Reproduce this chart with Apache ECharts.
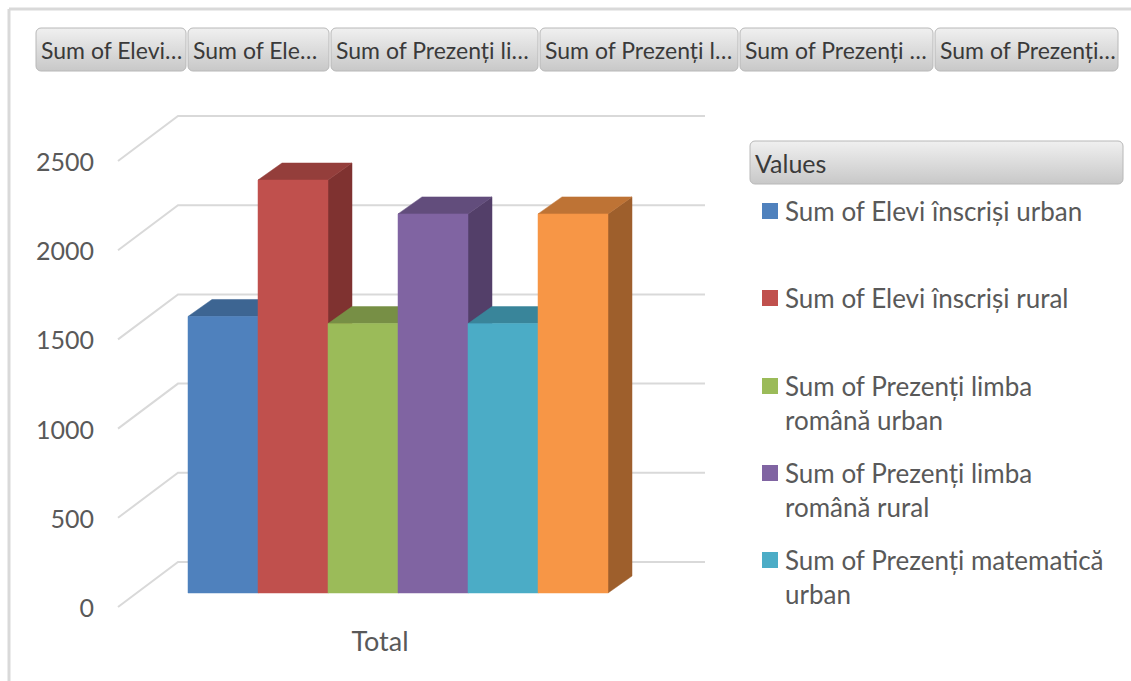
<!DOCTYPE html>
<html>
<head>
<meta charset="utf-8">
<title>Sum of Elevi / Prezenți</title>
<script src="https://cdn.jsdelivr.net/npm/echarts@6/dist/echarts.min.js"></script>
<style>
html, body { margin: 0; padding: 0; background: #fff; }
#chart { width: 1131px; height: 681px; }
</style>
</head>
<body>
<div id="chart"></div>
<script>
const categories = ['Total'];
const seriesNames = [
  'Sum of Elevi înscriși urban',
  'Sum of Elevi înscriși rural',
  'Sum of Prezenți limba română urban',
  'Sum of Prezenți limba română rural',
  'Sum of Prezenți matematică urban',
  'Sum of Prezenți matematică rural'
];
const seriesValues = [1550, 2315, 1510, 2125, 1510, 2125];
const yTicks = [0, 500, 1000, 1500, 2000, 2500];
// only the first five fit in the legend box
const legendLabels = [
  'Sum of Elevi înscriși urban',
  'Sum of Elevi înscriși rural',
  'Sum of Prezenți limba\nromână urban',
  'Sum of Prezenți limba\nromână rural',
  'Sum of Prezenți matematică\nurban'
];
const tabLabels = ['Sum of Elevi…', 'Sum of Ele…', 'Sum of Prezenți li…', 'Sum of Prezenți l…', 'Sum of Prezenți …', 'Sum of Prezenți…'];

const frontColors = ['#4f81bd', '#c0504d', '#9bbb59', '#8064a2', '#4bacc6', '#f79646'];
const topColors = ['#3d6592', '#943e3b', '#778f45', '#624d7c', '#39859a', '#be7335'];
const sideColors = ['#365b85', '#7f3230', '#677b3b', '#533f69', '#317386', '#9e5f2c'];

const FONT = 'Lato, "Open Sans", sans-serif';
const TEXT = '#595959';
// depth offsets of the oblique 3d view
const WALL_DX = 60, WALL_DY = 45;
const BAR_DX = 24, BAR_DY = 17;

const tabPos = [[36, 186], [188, 329], [331, 538], [540, 738], [740, 933], [935, 1118]];
const legendRowY = [211, 298, 386, 473, 560];

const chart = echarts.init(document.getElementById('chart'), null, {renderer: 'svg'});

function buttonGradient() {
  return new echarts.graphic.LinearGradient(0, 0, 0, 1, [
    {offset: 0, color: '#f0f0f0'},
    {offset: 1, color: '#c8c8c8'}
  ]);
}

let graphics = [
  {type: 'line', shape: {x1: 9, y1: 9, x2: 1131, y2: 9}, style: {stroke: '#d9d9d9', lineWidth: 3}},
  {type: 'line', shape: {x1: 9, y1: 9, x2: 9, y2: 681}, style: {stroke: '#d9d9d9', lineWidth: 3}},
  {type: 'rect', shape: {x: 750, y: 141, width: 373, height: 43, r: 5}, style: {fill: buttonGradient(), stroke: '#b8b8b8', lineWidth: 1}},
  {type: 'text', style: {text: 'Values', x: 755, y: 163, verticalAlign: 'middle', font: '25px ' + FONT, fill: '#3a3a3a'}}
];
tabPos.forEach((p, i) => {
  graphics.push({type: 'rect', shape: {x: p[0], y: 28, width: p[1] - p[0], height: 43, r: 5}, style: {fill: buttonGradient(), stroke: '#b8b8b8', lineWidth: 1}});
  graphics.push({type: 'text', style: {text: tabLabels[i], x: p[0] + 5, y: 50, verticalAlign: 'middle', font: '23px ' + FONT, fill: '#3a3a3a'}});
});

function renderGridLine(params, api) {
  const p = api.coord([0, api.value(1)]);
  const pr = api.coord([1, api.value(1)]);
  return {
    type: 'polyline',
    shape: {points: [[p[0], p[1]], [p[0] + WALL_DX, p[1] - WALL_DY], [pr[0], p[1] - WALL_DY]]},
    style: {stroke: '#d9d9d9', lineWidth: 2, fill: null}
  };
}

function renderBar(params, api) {
  const i = api.value(2);
  const top = api.coord([api.value(0), api.value(1)]);
  const base = api.coord([api.value(0), 0]);
  const band = api.size([1, 0])[0];
  const w = band / seriesValues.length;
  const xl = top[0] - band / 2 + i * w, xr = xl + w;
  const yt = top[1], yb = base[1];
  return {
    type: 'group',
    children: [
      {type: 'polygon', shape: {points: [[xr, yt], [xr + BAR_DX, yt - BAR_DY], [xr + BAR_DX, yb - BAR_DY], [xr, yb]]},
        style: {fill: sideColors[i], stroke: sideColors[i], lineWidth: 0.5}},
      {type: 'polygon', shape: {points: [[xl, yt], [xl + BAR_DX, yt - BAR_DY], [xr + BAR_DX, yt - BAR_DY], [xr, yt]]},
        style: {fill: topColors[i], stroke: topColors[i], lineWidth: 0.5}},
      {type: 'rect', shape: {x: xl, y: yt, width: w, height: yb - yt},
        style: {fill: frontColors[i], stroke: frontColors[i], lineWidth: 0.5}}
    ]
  };
}

const series = [{
  type: 'custom',
  xAxisIndex: 0,
  yAxisIndex: 0,
  silent: true,
  renderItem: renderGridLine,
  data: yTicks.map(v => [0, v]),
  z: 1
}];
seriesNames.forEach((name, i) => {
  series.push({
    name: name,
    type: 'custom',
    xAxisIndex: 1,
    yAxisIndex: 1,
    renderItem: renderBar,
    itemStyle: {color: frontColors[i]},
    encode: {x: 0, y: 1},
    data: [[0, seriesValues[i], i]],
    z: 2
  });
});

const option = {
  animation: false,
  graphic: graphics,
  legend: legendLabels.map((label, i) => {
    const twoLines = label.indexOf('\n') >= 0;
    return {
      data: [seriesNames[i]],
      left: 762,
      top: legendRowY[i] - 51,
      padding: 0,
      icon: 'rect',
      itemWidth: 16,
      itemHeight: 16,
      selectedMode: false,
      // an empty first line keeps the icon level with the first text line
      formatter: () => twoLines ? '\n' + label : label,
      textStyle: {
        fontFamily: FONT, fontSize: 26, color: TEXT, lineHeight: 34,
        padding: twoLines ? [0, 0, 0, 2] : [34, 0, 34, 2],
        backgroundColor: 'rgba(255,255,255,0)'
      }
    };
  }),
  grid: [
    {left: 118, top: 161, width: 587, height: 446},
    {left: 188, top: 147, width: 420, height: 446}
  ],
  xAxis: [
    {gridIndex: 0, type: 'value', min: 0, max: 1, show: false},
    {gridIndex: 1, type: 'category', data: categories,
      axisLine: {show: false}, axisTick: {show: false},
      axisLabel: {margin: 34, fontFamily: FONT, fontSize: 27, color: TEXT, padding: [0, 36, 0, 0]}}
  ],
  yAxis: [
    {gridIndex: 0, type: 'value', min: 0, max: 2500, interval: 500,
      axisLine: {show: false}, axisTick: {show: false}, splitLine: {show: false},
      axisLabel: {margin: 24, fontFamily: FONT, fontSize: 25, color: TEXT, formatter: v => String(v)}},
    {gridIndex: 1, type: 'value', min: 0, max: 2500, show: false}
  ],
  series: series
};
chart.setOption(option);
</script>
</body>
</html>
